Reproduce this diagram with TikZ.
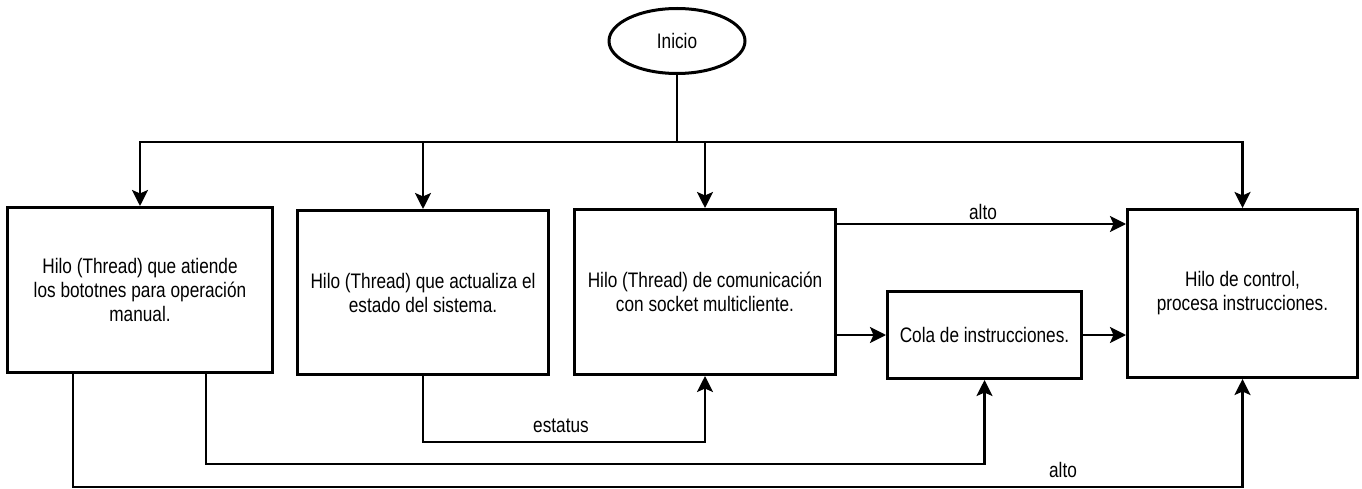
\documentclass[tikz,border=0pt]{standalone}
\usepackage{fontspec}
\setmainfont{Liberation Sans}[FakeStretch=0.82]
\usetikzlibrary{arrows.meta,shapes.geometric}
\begin{document}
\begin{tikzpicture}[x=1pt,y=-1pt,
  every node/.style={font=\fontsize{21}{24}\selectfont},
  boxnode/.style={draw,line width=3pt,align=center,inner sep=0pt},
  startnode/.style={draw,ellipse,line width=3pt,inner sep=0pt,minimum width=136pt,minimum height=65pt},
  conn/.style={line width=2.6pt},
  arr/.style={conn,-{Stealth[length=16pt,width=16pt,inset=3.5pt]}},
  lbl/.style={inner sep=0pt}]
\useasboundingbox (0,0) rectangle (1362,489);
\node[startnode] (ini) at (677,41) {Inicio};
\node[boxnode,minimum width=265pt,minimum height=165pt] (b1) at (140,290) {Hilo (Thread) que atiende\\los bototnes para operación\\manual.};
\node[boxnode,minimum width=251pt,minimum height=164pt] (b2) at (423,292.5) {Hilo (Thread) que actualiza el\\estado del sistema.};
\node[boxnode,minimum width=261pt,minimum height=165pt] (b3) at (705,292) {Hilo (Thread) de comunicación\\con socket multicliente.};
\node[boxnode,minimum width=194pt,minimum height=87pt] (cola) at (984.5,335) {Cola de instrucciones.};
\node[boxnode,minimum width=230pt,minimum height=168pt] (b5) at (1242.5,293.5) {Hilo de control,\\procesa instrucciones.};
\coordinate (bus) at (677,142);
\draw[conn] (ini.south) -- (bus);
\draw[arr] (bus) -| (b1.north);
\draw[arr] (bus) -| (b2.north);
\draw[arr] (bus) -| (b3.north);
\draw[arr] (bus) -| (b5.north);
\coordinate (altoA) at (b3.east |- 0,224);
\draw[arr] (altoA) -- (altoA -| b5.west);
\node[lbl] (altotop) at (983,212) {alto};
\draw[arr] (b3.east |- cola.west) -- (cola.west);
\draw[arr] (cola.east) -- (cola.east -| b5.west);
\draw[arr] (b2.south) -- ++(0,66) -| (b3.south);
\node[lbl] (est) at (561,426) {estatus};
\draw[arr] ([xshift=66pt]b1.south) -- ++(0,90) -| (cola.south);
\draw[arr] ([xshift=-67pt]b1.south) -- ++(0,113) -| (b5.south);
\node[lbl] (altobot) at (1063,470) {alto};
\end{tikzpicture}
\end{document}
